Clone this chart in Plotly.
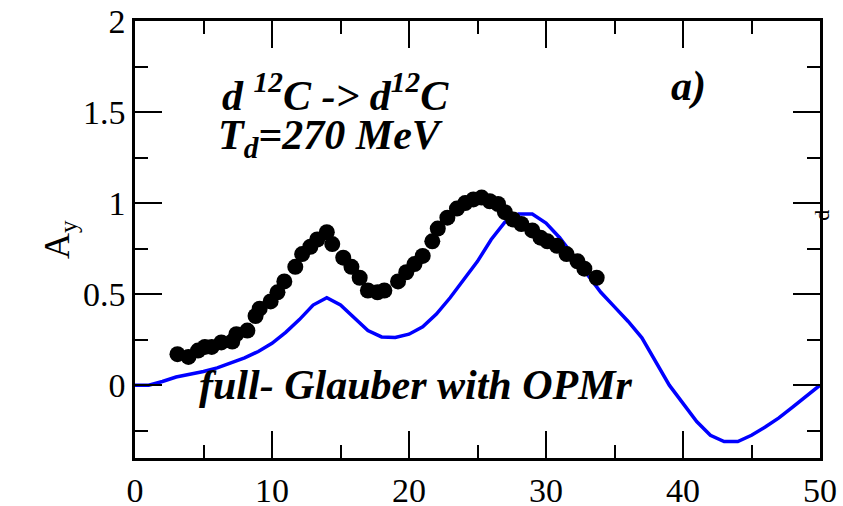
import plotly.graph_objects as go

# Experimental data (black circles)
data_x = [3.1, 3.9, 4.6, 5.1, 5.6, 6.3, 7.1, 7.4, 8.2, 8.8, 9.1, 9.9, 10.4, 10.9, 11.7,
          12.2, 12.8, 13.3, 14.0, 14.4, 15.2, 15.8, 16.4, 17.0, 17.7, 18.2, 19.2, 19.8,
          20.4, 21.0, 21.7, 22.1, 22.8, 23.5, 24.1, 24.7, 25.3, 25.9, 26.5, 27.0, 27.6,
          28.2, 29.0, 29.6, 30.1, 30.8, 31.5, 32.3, 32.8, 33.7]
data_y = [0.17, 0.155, 0.19, 0.21, 0.21, 0.235, 0.24, 0.28, 0.30, 0.38, 0.42, 0.46, 0.51,
          0.57, 0.65, 0.72, 0.76, 0.80, 0.84, 0.775, 0.70, 0.65, 0.59, 0.52, 0.51, 0.52,
          0.57, 0.62, 0.665, 0.71, 0.79, 0.86, 0.92, 0.97, 1.00, 1.02, 1.03, 1.01, 0.995,
          0.95, 0.91, 0.885, 0.85, 0.81, 0.79, 0.765, 0.72, 0.68, 0.64, 0.59]

# Theory curve (blue line): full Glauber with OPMr
theory_x = list(range(0, 51))
theory_y = [0.0, 0.0, 0.02, 0.045, 0.06, 0.075, 0.095, 0.12, 0.15, 0.185, 0.23, 0.29,
            0.36, 0.44, 0.48, 0.44, 0.37, 0.30, 0.265, 0.262, 0.28, 0.32, 0.39, 0.48,
            0.58, 0.68, 0.80, 0.895, 0.94, 0.94, 0.89, 0.81, 0.71, 0.61, 0.51, 0.43,
            0.35, 0.26, 0.13, 0.0, -0.10, -0.20, -0.275, -0.31, -0.31, -0.275, -0.23,
            -0.18, -0.12, -0.06, 0.0]

FONT = "Liberation Serif"

fig = go.Figure()
fig.add_trace(go.Scatter(x=theory_x, y=theory_y, mode="lines",
                         line=dict(color="#0000ff", width=3.5), showlegend=False,
                         cliponaxis=True))
fig.add_trace(go.Scatter(x=data_x, y=data_y, mode="markers",
                         marker=dict(color="black", size=16, line=dict(width=0)),
                         showlegend=False))

axis_common = dict(
    showgrid=False, zeroline=False, showline=True, linecolor="black", linewidth=2.5,
    mirror="allticks", ticks="inside", ticklen=27, tickwidth=2, tickcolor="black",
    automargin=False,
    tickfont=dict(family=FONT, size=34, color="black"),
)

fig.update_xaxes(range=[0, 50], tick0=0, dtick=10,
                 minor=dict(dtick=5, tick0=0, ticks="inside", ticklen=13, tickwidth=2,
                            tickcolor="black", showgrid=False),
                 **axis_common)
fig.update_yaxes(range=[-0.4, 2], tick0=0, dtick=0.5,
                 minor=dict(dtick=0.25, tick0=0, ticks="inside", ticklen=13, tickwidth=2,
                            tickcolor="black", showgrid=False),
                 **axis_common)

ann_font = dict(family=FONT, size=42, color="black")
fig.add_annotation(x=14.6, y=1.61, xref="x", yref="y", showarrow=False,
                   text="<b><i>d <sup>12</sup>C -> d<sup>12</sup>C</i></b>", font=ann_font)
fig.add_annotation(x=14.3, y=1.36, xref="x", yref="y", showarrow=False,
                   text="<b><i>T<sub>d</sub>=270 MeV</i></b>", font=ann_font)
fig.add_annotation(x=40.4, y=1.64, xref="x", yref="y", showarrow=False,
                   text="<b><i>a)</i></b>", font=ann_font)
fig.add_annotation(x=20.5, y=0.0, xref="x", yref="y", showarrow=False,
                   text="<b><i>full- Glauber with OPMr</i></b>", font=ann_font)
# y-axis title
fig.add_annotation(x=-0.146, y=0.50, xref="paper", yref="paper", showarrow=False,
                   text="A<sub>y</sub>", textangle=-90,
                   font=dict(family=FONT, size=36, color="black"))
# clipped label of a neighbouring panel at the right edge
fig.add_annotation(x=1.023, y=0.555, xref="paper", yref="paper", showarrow=False,
                   text="d", textangle=-90,
                   font=dict(family=FONT, size=22, color="black"))

fig.update_layout(
    width=843, height=506,
    margin=dict(l=135, r=23, t=21, b=48, autoexpand=False),
    paper_bgcolor="white", plot_bgcolor="white",
)

fig.write_html("out.html")
